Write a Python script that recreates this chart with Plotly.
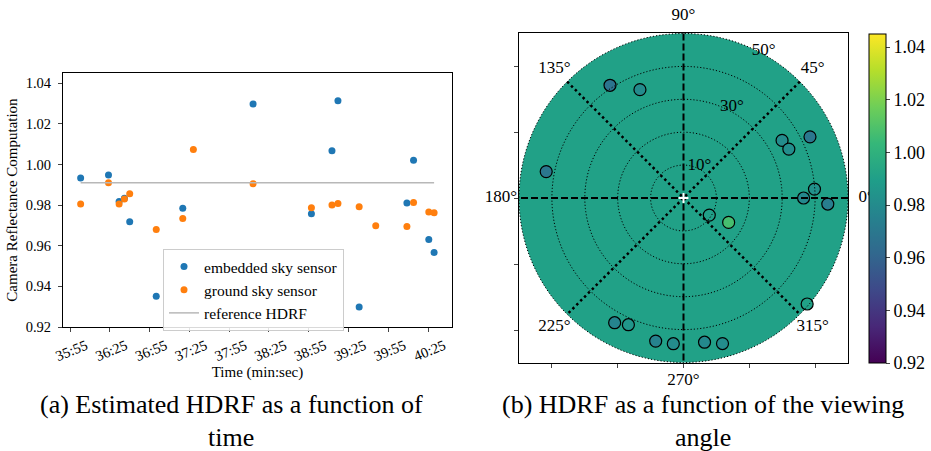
import plotly.graph_objects as go
from plotly.colors import sample_colorscale

# ---------------- data: left panel (time in seconds) ----------------
embedded_t = [2163, 2184, 2192, 2196, 2200, 2220, 2240, 2293, 2337, 2352.5, 2357, 2373, 2409, 2414, 2425.5, 2429.5]
embedded_v = [0.9933, 0.9948, 0.9818, 0.9834, 0.9718, 0.9351, 0.9784, 1.0298, 0.9757, 1.0067, 1.0313, 0.9298, 0.9810, 1.0021, 0.9631, 0.9567]
ground_t = [2163, 2184, 2192, 2196, 2200, 2220, 2240, 2248, 2293, 2337, 2352.5, 2357, 2373, 2385.5, 2409, 2414, 2425.5, 2429.5]
ground_v = [0.9805, 0.9910, 0.9805, 0.9830, 0.9856, 0.9680, 0.9734, 1.0074, 0.9905, 0.9787, 0.9800, 0.9808, 0.9792, 0.9698, 0.9695, 0.9813, 0.9766, 0.9762]
ref_t = [2163, 2429.5]
ref_v = [0.991, 0.991]
time_ticks = [2155, 2185, 2215, 2245, 2275, 2305, 2335, 2365, 2395, 2425]
time_labels = ["35:55", "36:25", "36:55", "37:25", "37:55", "38:25", "38:55", "39:25", "39:55", "40:25"]
y_ticks = [0.92, 0.94, 0.96, 0.98, 1.00, 1.02, 1.04]

# ---------------- data: right panel (polar) ----------------
polar_theta = [123.1, 111.9, 169.1, 30.3, 24.9, 25.8, 3.9, 0.0, 357.6, 326.5, 331.6, 319.4, 241.1, 246.5, 259.0, 266.0, 278.3, 285.0]
polar_r = [40.9, 35.5, 42.5, 34.7, 35.3, 42.7, 39.9, 36.5, 43.9, 9.4, 15.6, 49.5, 43.3, 42.0, 44.3, 44.4, 44.3, 45.8]
polar_v = [0.9680, 0.9800, 0.9695, 0.9805, 0.9813, 0.9698, 0.9830, 0.9787, 0.9734, 0.9905, 1.0074, 0.9910, 0.9766, 0.9856, 0.9762, 0.9805, 0.9792, 0.9808]
ref_hdrf = 0.991
c_min, c_max = 0.92, 1.045
max_zenith = 50
angle_ticks = [0, 45, 90, 135, 180, 225, 270, 315]
angle_labels = ["0°", "45°", "90°", "135°", "180°", "225°", "270°", "315°"]
ring_radii = [10, 20, 30, 40, 50]
radial_label_r = [11, 31.3, 51]
radial_label_theta = [64, 62, 61.5]
radial_labels = ["10°", "30°", "50°"]
cbar_ticks = [0.92, 0.94, 0.96, 0.98, 1.00, 1.02, 1.04]

W, H = 931, 451
SERIF = "Liberation Serif"

def px_x(a, b):
    return [a / W, b / W]

def px_y(top, bottom):
    return [1 - bottom / H, 1 - top / H]

bg = sample_colorscale("Viridis", [(ref_hdrf - c_min) / (c_max - c_min)])[0]
full_circle = list(range(0, 361, 2))

fig = go.Figure()

# ---------- left panel ----------
fig.add_trace(go.Scatter(x=embedded_t, y=embedded_v, mode="markers", name="embedded sky sensor",
                         marker=dict(color="#1f77b4", size=7), xaxis="x", yaxis="y"))
fig.add_trace(go.Scatter(x=ground_t, y=ground_v, mode="markers", name="ground sky sensor",
                         marker=dict(color="#ff7f0e", size=7), xaxis="x", yaxis="y"))
fig.add_trace(go.Scatter(x=ref_t, y=ref_v, mode="lines", name="reference HDRF",
                         line=dict(color="#b8b8b8", width=1.5), xaxis="x", yaxis="y"))

# frame axes for the polar panel
fig.add_trace(go.Scatter(x=[0], y=[0], mode="markers", marker=dict(opacity=0), showlegend=False,
                         hoverinfo="skip", xaxis="x2", yaxis="y2"))

# ---------- right panel ----------
# background disc: constant reference HDRF over the hemisphere
fig.add_trace(go.Scatterpolar(r=[max_zenith] * len(full_circle), theta=full_circle, mode="lines",
                              fill="toself", fillcolor=bg, line=dict(width=0, color=bg),
                              showlegend=False, hoverinfo="skip", subplot="polar"))

fig.add_trace(go.Scatterpolar(
    r=polar_r, theta=polar_theta, mode="markers", showlegend=False, subplot="polar",
    marker=dict(size=12, color=polar_v, colorscale="Viridis", cmin=c_min, cmax=c_max,
                line=dict(color="black", width=1.2),
                colorbar=dict(x=869 / W, xanchor="left", y=1 - 198.5 / H, yanchor="middle",
                              lenmode="pixels", len=329, thickness=17, outlinewidth=1,
                              outlinecolor="black", tickvals=cbar_ticks, tickformat=".2f",
                              ticks="outside", ticklen=4, xpad=0, ypad=0,
                              tickfont=dict(family=SERIF, size=18, color="black")))))

# dotted zenith rings
for rr in ring_radii:
    fig.add_trace(go.Scatterpolar(r=[rr] * len(full_circle), theta=full_circle, mode="lines",
                                  line=dict(color="black", dash="1.2px,2px", width=1),
                                  showlegend=False, hoverinfo="skip", subplot="polar"))

# angular guide lines
for a, dash, w in [(0, "7px,3px", 2), (90, "7px,3px", 2), (45, "2.5px,3px", 2.5), (135, "2.5px,3px", 2.5)]:
    fig.add_trace(go.Scatterpolar(r=[max_zenith, 0, max_zenith], theta=[a, a, a + 180], mode="lines",
                                  line=dict(color="black", dash=dash, width=w),
                                  showlegend=False, hoverinfo="skip", subplot="polar"))
fig.add_trace(go.Scatterpolar(r=[0], theta=[0], mode="markers",
                              marker=dict(symbol="cross-thin", size=7, line=dict(color="white", width=2)),
                              showlegend=False, hoverinfo="skip", subplot="polar"))

# angular labels (outside the disc)
fig.add_trace(go.Scatterpolar(r=[55.5] * len(angle_ticks), theta=angle_ticks, mode="text",
                              text=angle_labels, cliponaxis=False, showlegend=False, hoverinfo="skip",
                              textfont=dict(family=SERIF, size=17, color="black"), subplot="polar"))
# radial labels
fig.add_trace(go.Scatterpolar(r=radial_label_r, theta=radial_label_theta, mode="text",
                              text=radial_labels, cliponaxis=False, showlegend=False, hoverinfo="skip",
                              textfont=dict(family=SERIF, size=17, color="black"), subplot="polar"))

# polar domain sized so that r = 50 fills the 329 px frame and labels fit out to r = 57
R50 = 164.5
R_full = R50 * 57 / 50
cx, cy = 683.5, 198.0

axis_font = dict(family=SERIF, size=14.5, color="black")
cap_font = dict(family=SERIF, size=26, color="black")
fig.update_layout(
    width=W, height=H, margin=dict(l=0, r=0, t=0, b=0),
    paper_bgcolor="white", plot_bgcolor="white",
    font=dict(family=SERIF, color="black"),
    xaxis=dict(domain=px_x(63, 452), range=[2149.7, 2443], tickvals=time_ticks, ticktext=time_labels,
               tickangle=-22, ticklabelshift=16, ticks="outside", ticklen=4, showline=True, mirror=True,
               automargin=False, linecolor="black", linewidth=1, showgrid=False, zeroline=False,
               tickfont=axis_font,
               title=dict(text="Time (min:sec)", font=dict(family=SERIF, size=15), standoff=2)),
    yaxis=dict(domain=px_y(73, 327), range=[0.92, 1.045], tickvals=y_ticks, tickformat=".2f",
               ticks="outside", ticklen=4, ticklabelstandoff=4, showline=True, mirror=True,
               linecolor="black", automargin=False,
               linewidth=1, showgrid=False, zeroline=False, tickfont=axis_font,
               title=dict(text="Camera Reflectance Computation", font=dict(family=SERIF, size=15), standoff=4)),
    xaxis2=dict(domain=px_x(519, 848), range=[-50, 50], tickvals=[-40, -20, 0, 20, 40], automargin=False,
                showticklabels=False, ticks="outside", ticklen=4, showline=True, mirror=True,
                linecolor="black", showgrid=False, zeroline=False, anchor="y2"),
    yaxis2=dict(domain=px_y(33, 363), range=[-50, 50], tickvals=[-40, -20, 0, 20, 40], automargin=False,
                showticklabels=False, ticks="outside", ticklen=4, showline=True, mirror=True,
                linecolor="black", showgrid=False, zeroline=False, anchor="x2"),
    polar=dict(
        domain=dict(x=px_x(cx - R_full, cx + R_full), y=px_y(cy - R_full, cy + R_full)),
        bgcolor="rgba(0,0,0,0)",
        radialaxis=dict(range=[0, 57], showticklabels=False, showline=False, ticks="", showgrid=False),
        angularaxis=dict(showticklabels=False, direction="counterclockwise", rotation=0,
                         showgrid=False, showline=False, ticks=""),
    ),
    legend=dict(x=163 / W, y=1 - 249 / H, xanchor="left", yanchor="top",
                bgcolor="rgba(255,255,255,0.85)", bordercolor="#cccccc", borderwidth=1,
                font=dict(family=SERIF, size=15.5, color="black"), tracegroupgap=2),
    annotations=[
        dict(text="(a) Estimated HDRF as a function of", x=231 / W, y=1 - 404 / H, xref="paper", yref="paper",
             showarrow=False, font=cap_font, xanchor="center", yanchor="middle"),
        dict(text="time", x=231 / W, y=1 - 437 / H, xref="paper", yref="paper",
             showarrow=False, font=cap_font, xanchor="center", yanchor="middle"),
        dict(text="(b) HDRF as a function of the viewing", x=703 / W, y=1 - 404 / H, xref="paper", yref="paper",
             showarrow=False, font=cap_font, xanchor="center", yanchor="middle"),
        dict(text="angle", x=703 / W, y=1 - 437 / H, xref="paper", yref="paper",
             showarrow=False, font=cap_font, xanchor="center", yanchor="middle"),
    ],
)

fig.write_html("out.html", config={"displayModeBar": False},
               post_script="document.body.style.margin='0px';document.body.style.padding='0px';")
